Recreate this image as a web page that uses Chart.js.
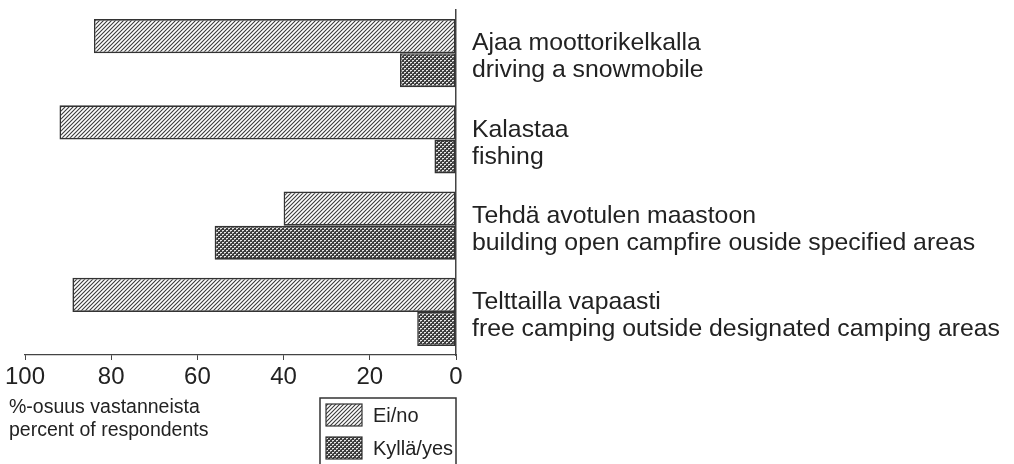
<!DOCTYPE html>
<html>
<head>
<meta charset="utf-8">
<script src="https://cdn.jsdelivr.net/npm/chart.js@4"></script>
<style>
  html, body { margin: 0; padding: 0; background: #fff; }
  #wrap { width: 1014px; height: 464px; }
</style>
</head>
<body>
<div id="wrap"><canvas id="activitychart" width="1014" height="464"></canvas></div>
<script>
// data (percent of respondents)
const activities = [
  ['Ajaa moottorikelkalla', 'driving a snowmobile'],
  ['Kalastaa', 'fishing'],
  ['Tehdä avotulen maastoon', 'building open campfire ouside specified areas'],
  ['Telttailla vapaasti', 'free camping outside designated camping areas']
];
const noValues = [84, 92, 40, 89];
const yesValues = [13, 5, 56, 9];
const seriesNames = ['Ei/no', 'Kyllä/yes'];
const axisTitle = ['%-osuus vastanneista', 'percent of respondents'];

const FONT = 'Arial, "Liberation Sans", Helvetica, sans-serif';
const INK = '#222';

// hatch patterns like the printed original
function hatchPattern(){
    const c = document.createElement('canvas');
    c.width = 4; c.height = 4;
    const g = c.getContext('2d');
    g.fillStyle = '#fff';
    g.fillRect(0, 0, 4, 4);
    g.strokeStyle = '#3a3a3a';
    g.lineWidth = 1.1;
    g.beginPath();
    g.moveTo(-1, 5); g.lineTo(5, -1);
    g.moveTo(-1, 1); g.lineTo(1, -1);
    g.moveTo(3, 5); g.lineTo(5, 3);
    g.stroke();
    return g.createPattern(c, 'repeat');
}

function dotPattern(){
    const c = document.createElement('canvas');
    c.width = 4; c.height = 4;
    const g = c.getContext('2d');
    g.fillStyle = '#3c3c3c';
    g.fillRect(0, 0, 4, 4);
    g.fillStyle = '#e8e8e8';
    g.fillRect(0, 0, 2, 1);
    g.fillRect(2, 2, 2, 1);
    g.fillStyle = '#9a9a9a';
    g.fillRect(0, 1, 1, 1);
    g.fillRect(2, 3, 1, 1);
    return g.createPattern(c, 'repeat');
}

// legend box + axis caption, drawn under the chart like the original
const extraText = {
    id: 'extraText',
    afterDraw(chart){
        const ctx = chart.ctx;
        ctx.save();
        ctx.fillStyle = INK;
        ctx.textBaseline = 'middle';
        ctx.textAlign = 'left';
        ctx.font = '19.5px ' + FONT;
        ctx.fillText(axisTitle[0], 9, 408);
        ctx.fillText(axisTitle[1], 9, 431);

        // legend frame
        ctx.strokeStyle = '#333';
        ctx.lineWidth = 1.5;
        ctx.strokeRect(320, 398, 136, 80);

        ctx.font = '20px ' + FONT;
        chart.data.datasets.forEach((ds, i) => {
            const top = 404 + i * 33;
            ctx.fillStyle = ds.backgroundColor;
            ctx.fillRect(326, top, 36, 22);
            ctx.strokeStyle = '#333';
            ctx.lineWidth = 1.2;
            ctx.strokeRect(326, top, 36, 22);
            ctx.fillStyle = INK;
            ctx.fillText(ds.label, 373, top + 12);
        });
        ctx.restore();
    }
};

const data = {
    labels: activities,
    datasets: [
        {
            label: seriesNames[0],
            data: noValues,
            backgroundColor: hatchPattern(),
            borderColor: '#333',
            borderWidth: 1.6,
            borderSkipped: false,
            barPercentage: 1,
            categoryPercentage: 0.79
        },
        {
            label: seriesNames[1],
            data: yesValues,
            backgroundColor: dotPattern(),
            borderColor: '#333',
            borderWidth: 1.6,
            borderSkipped: false,
            barPercentage: 1,
            categoryPercentage: 0.79
        }
    ]
};

const config = {
    type: 'bar',
    data: data,
    plugins: [extraText],
    options: {
        indexAxis: 'y',
        responsive: false,
        animation: false,
        layout: {
            padding: { top: 10, left: 25, right: 0, bottom: 0 }
        },
        plugins: {
            legend: { display: false },
            tooltip: { enabled: false }
        },
        scales: {
            x: {
                reverse: true,
                min: 0,
                max: 100,
                afterFit(scale){ scale.height = 109; },
                ticks: {
                    stepSize: 20,
                    color: INK,
                    padding: 3,
                    font: { family: FONT, size: 24 }
                },
                grid: {
                    drawOnChartArea: false,
                    tickLength: 5,
                    color: '#444',
                    lineWidth: 1
                },
                border: { color: '#444', width: 1.2 }
            },
            y: {
                position: 'right',
                afterFit(scale){
                    scale.width = 558;
                    // keep the label overflow from shrinking the plot
                    scale.paddingTop = 0;
                    scale.paddingBottom = 0;
                },
                ticks: {
                    color: INK,
                    crossAlign: 'near',
                    padding: 16,
                    labelOffset: 4,
                    font: { family: FONT, size: 24.8, lineHeight: 1.09 }
                },
                grid: {
                    drawOnChartArea: false,
                    drawTicks: false
                },
                border: { color: '#444', width: 1.5 }
            }
        }
    }
};

const ctx = document.getElementById('activitychart').getContext('2d');
const chart = new Chart(ctx, config);
</script>
</body>
</html>
